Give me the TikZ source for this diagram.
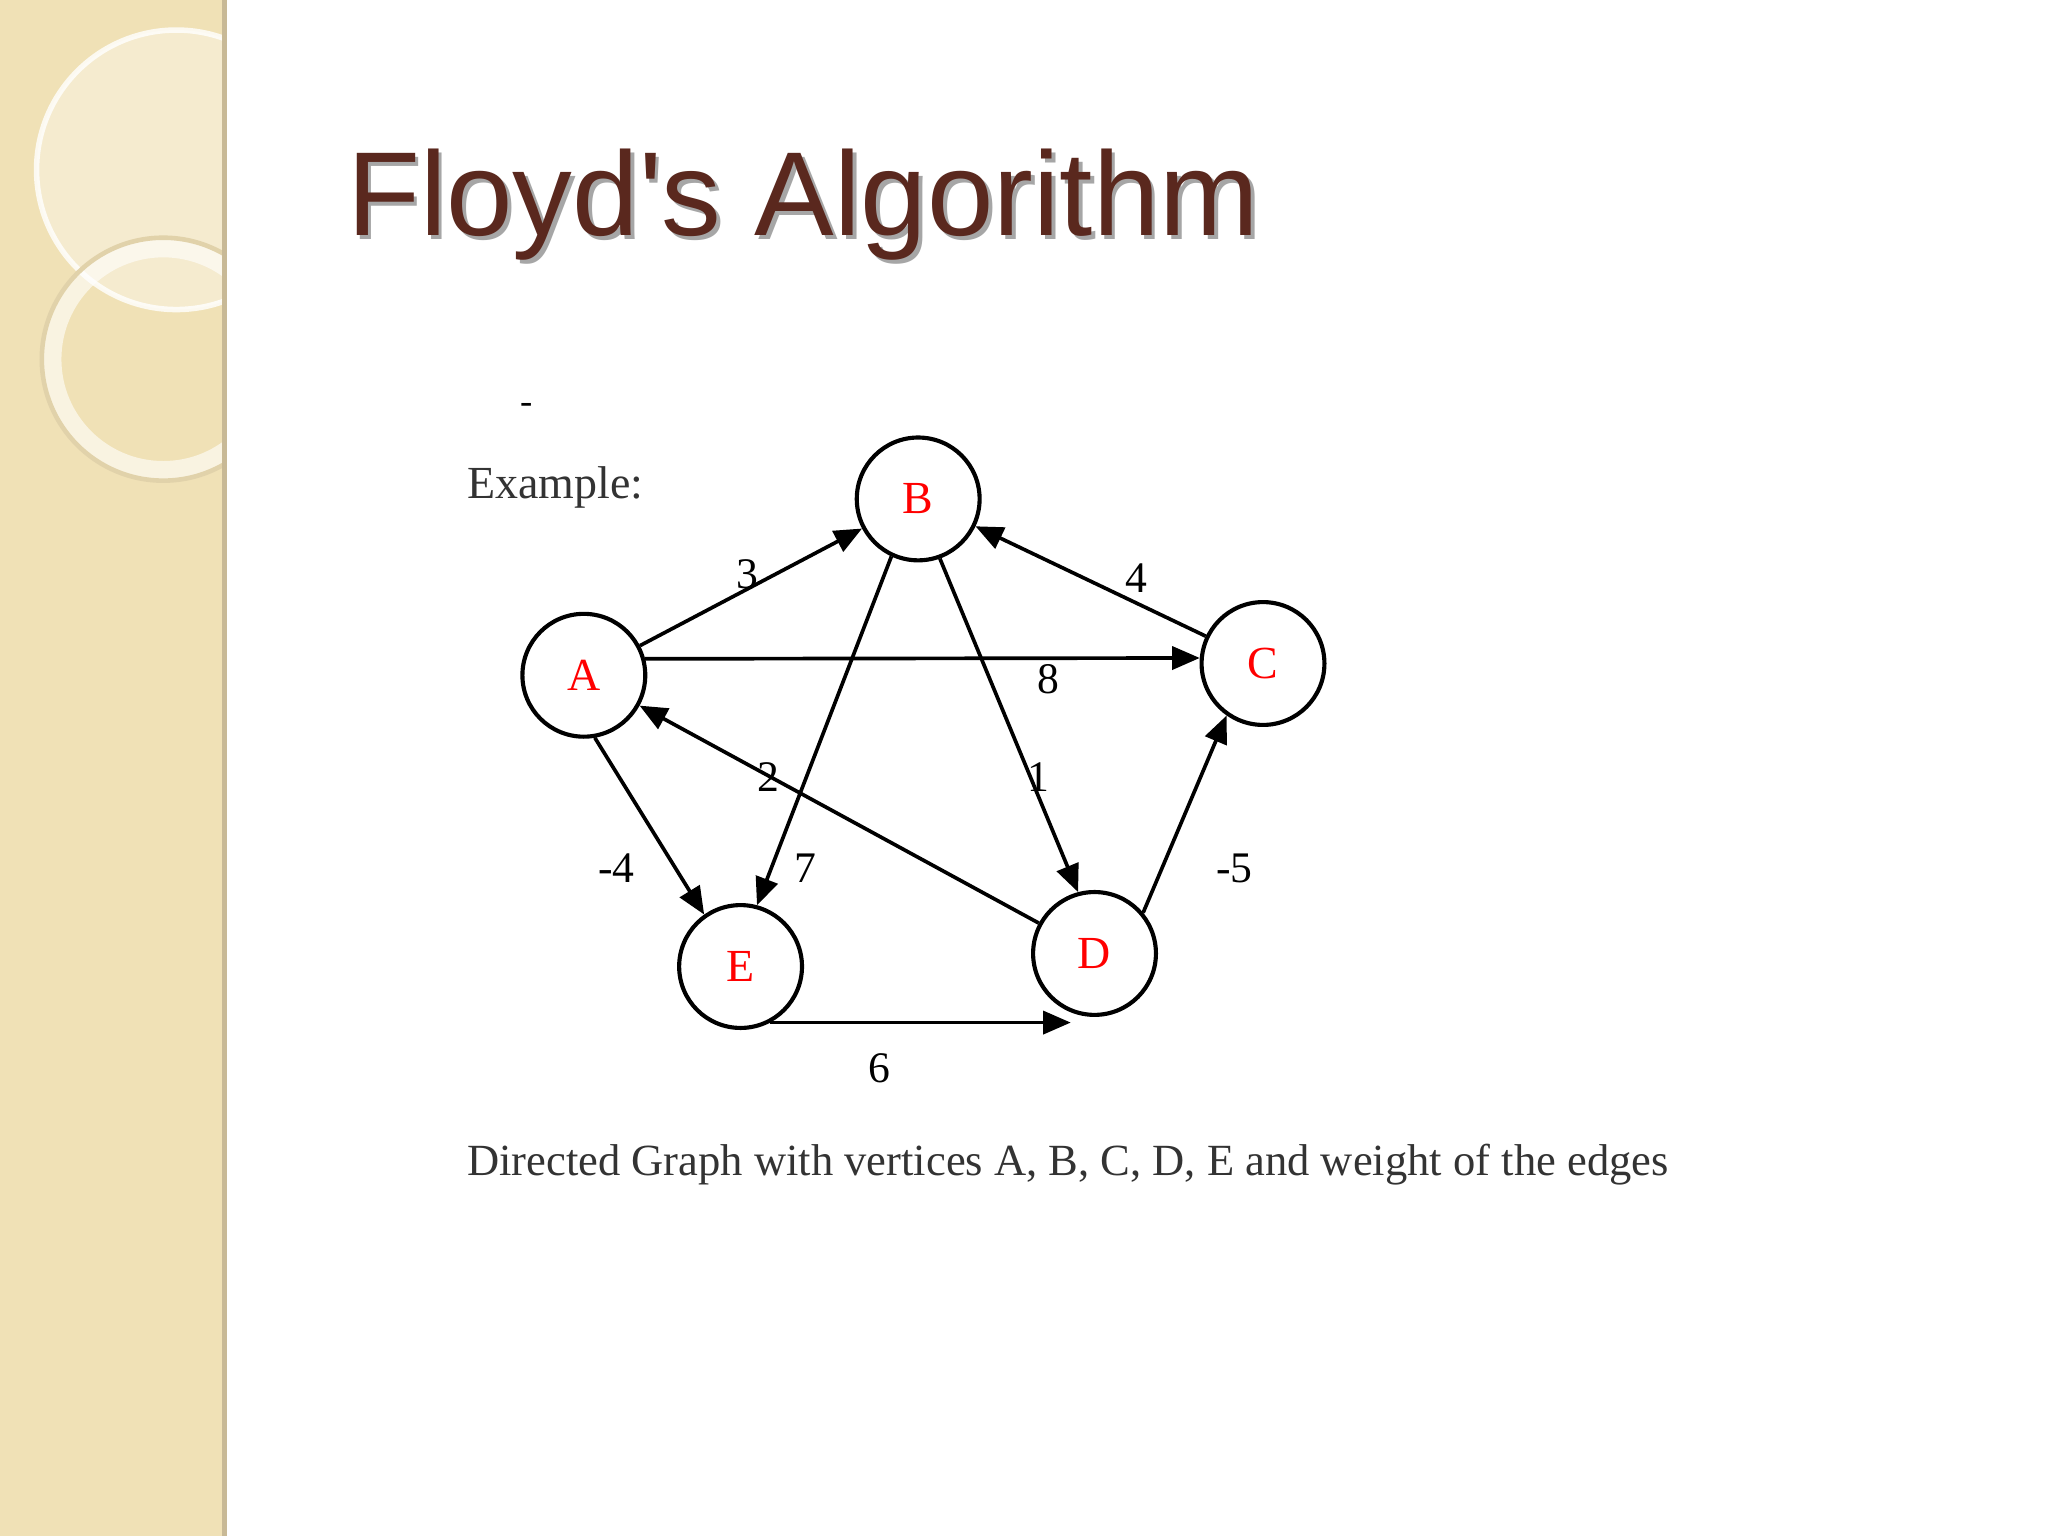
\documentclass[tikz,border=0pt]{standalone}
\usepackage{fontspec}
\setmainfont{Liberation Serif}
\newfontfamily\titlefont{Liberation Sans}
\usetikzlibrary{arrows.meta}
\begin{document}
\begin{tikzpicture}[x=0.01cm,y=-0.01cm,
  vtx/.style={circle,draw,line width=0.9pt,minimum size=0.94cm,inner sep=0pt,text=red,font=\fontsize{10}{12}\selectfont},
  arr/.style={line width=0.8pt,-{Triangle[length=6pt,width=5pt]}},
  wt/.style={font=\fontsize{9.5}{11}\selectfont}]
\useasboundingbox (0,0) rectangle (1568,1176);
\fill[white] (0,0) rectangle (1568,1176);
\begin{scope}
\clip (0,0) rectangle (172,1176);
\fill[color={rgb,255:red,240;green,225;blue,182}] (0,0) rectangle (172,1176);
\fill[white,opacity=0.35] (135,130) circle (107);
\draw[white,opacity=0.8,line width=1.2pt] (135,130) circle (107);
\draw[white,opacity=0.6,line width=4pt] (125,275) circle (85);
\draw[color={rgb,255:red,225;green,210;blue,170},line width=1pt] (125,275) circle (93);
\end{scope}
\draw[color={rgb,255:red,200;green,185;blue,150},line width=1pt] (172,0) -- (172,1176);
\node[anchor=base west,font=\titlefont\fontsize{26}{30}\selectfont,text=black!35,inner sep=0] at (268,183) {Floyd's Algorithm};
\node[anchor=base west,font=\titlefont\fontsize{26}{30}\selectfont,text={rgb,255:red,90;green,40;blue,30},inner sep=0] (title) at (265,180) {Floyd's Algorithm};
\node[anchor=base west,inner sep=0,font=\fontsize{10}{12}\selectfont,text=black!80] (ex) at (357,382) {Example:};
\node[inner sep=0,font=\fontsize{8}{10}\selectfont] (dash) at (403,313) {-};
\node (A) [vtx] at (447,517) {A};
\node (B) [vtx] at (703,382) {B};
\node (C) [vtx] at (967,508) {C};
\node (E) [vtx] at (567,740) {E};
\node (D) [vtx] at (838,730) {D};
\draw[arr] (A) -- (B);
\draw[arr] (A.15) -- (C.175);
\draw[arr] (C) -- (B);
\draw[arr] (B.245) -- (E.75);
\draw[arr] (B.290) -- (D.105);
\draw[arr] (D) -- (A);
\draw[arr] (A.280) -- (E.125);
\draw[arr] (D.40) -- (C.235);
\draw[arr] (E.-62) -- (E.-62 -| D.-112);
\node[wt] at (572,440) {3};
\node[wt] at (803,520) {8};
\node[wt] at (870,443) {4};
\node[wt] at (588,595) {2};
\node[wt] at (617,665) {7};
\node[wt] at (795,595) {1};
\node[wt] at (472,665) {-4};
\node[wt] at (945,665) {-5};
\node[wt] at (673,818) {6};
\node[anchor=base west,inner sep=0,font=\fontsize{9.7}{12}\selectfont,text=black!80] (cap) at (357,900) {Directed Graph with vertices A, B, C, D, E and weight of the edges};
\end{tikzpicture}
\end{document}
